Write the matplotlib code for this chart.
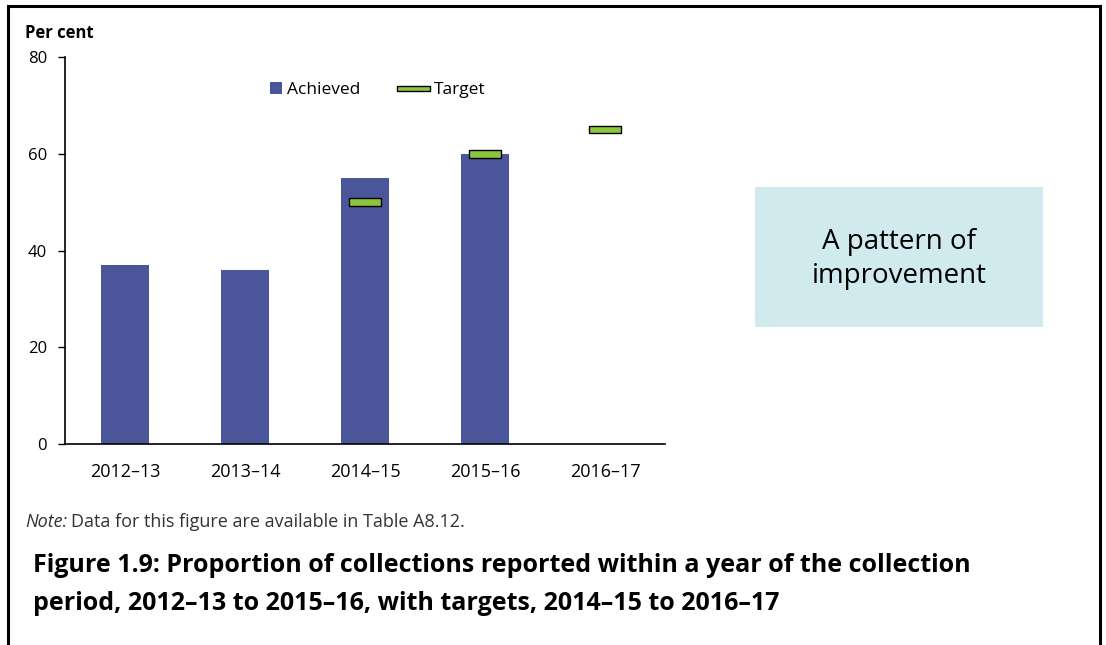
import matplotlib
matplotlib.use("Agg")
import matplotlib.pyplot as plt
from matplotlib.patches import Rectangle, Patch
from matplotlib.lines import Line2D
from matplotlib.legend_handler import HandlerPatch

plt.rcParams['font.family'] = ['Open Sans', 'DejaVu Sans']

# data
years = ['2012–13', '2013–14', '2014–15', '2015–16', '2016–17']
achieved = [37, 36, 55, 60]
target_years = ['2014–15', '2015–16', '2016–17']
targets = [50, 60, 65]

bar_color = '#4a5699'
target_color = '#8cc63f'

fig = plt.figure(figsize=(11.06, 6.45), dpi=100)
ax = fig.add_axes([0.0588, 0.3116, 0.5425, 0.6])

x = list(range(len(years)))
ax.bar(x[:len(achieved)], achieved, width=0.4, color=bar_color, zorder=2)
tx = [years.index(t) for t in target_years]
ax.bar(tx, [1.6] * len(targets), bottom=[t - 0.8 for t in targets], width=0.27,
       color=target_color, edgecolor='black', linewidth=1.0, zorder=3)

ax.set_xlim(-0.5, len(years) - 0.5)
ax.set_ylim(0, 80)
ax.set_yticks([0, 20, 40, 60, 80])
ax.set_xticks(x)
ax.set_xticklabels(years)
ax.tick_params(axis='y', direction='out', length=5, width=1, labelsize=12, pad=8)
ax.tick_params(axis='x', length=0, labelsize=13, pad=14)
for s in ['top', 'right']:
    ax.spines[s].set_visible(False)
ax.spines['left'].set_linewidth(1.2)
ax.spines['bottom'].set_linewidth(1.2)


def square_patch(legend, orig_handle, xdescent, ydescent, width, height, fontsize):
    return Rectangle((width - height - xdescent - 1, -ydescent), height, height,
                     facecolor=bar_color, edgecolor='none')


def wide_patch(legend, orig_handle, xdescent, ydescent, width, height, fontsize):
    return Rectangle((-xdescent, -ydescent + height * 0.3), width, height * 0.4,
                     facecolor=target_color, edgecolor='black', linewidth=1)


h1 = Patch(facecolor=bar_color, edgecolor='none', label='Achieved')
h2 = Patch(facecolor=target_color, edgecolor='black', linewidth=1, label='Target')
ax.legend(handles=[h1, h2], loc='upper center', bbox_to_anchor=(0.505, 0.975), ncol=2,
          frameon=False, fontsize=12.5, handlelength=1.9, handletextpad=0.2,
          columnspacing=2.1,
          handler_map={h1: HandlerPatch(patch_func=square_patch),
                       h2: HandlerPatch(patch_func=wide_patch)})

fig.text(25 / 1106, 1 - 33 / 645, 'Per cent', fontsize=12, fontweight='bold',
         va='center', ha='left')

# callout box
fig.patches.append(Rectangle((755 / 1106, 1 - 327 / 645), 288 / 1106, 140 / 645,
                             transform=fig.transFigure, facecolor='#d0eaee',
                             edgecolor='none'))
fig.text(899 / 1106, 1 - 259 / 645, 'A pattern of\nimprovement', fontsize=20,
         ha='center', va='center', linespacing=1.25)

# note line
note1 = fig.text(25 / 1106, 1 - 522 / 645, 'Note:', fontsize=13, style='italic',
                 color='#333333', va='center', ha='left')
fig.canvas.draw()
bb = note1.get_window_extent()
fig.text(bb.x1 / 1106 + 4 / 1106, 1 - 522 / 645,
         'Data for this figure are available in Table A8.12.', fontsize=13,
         color='#333333', va='center', ha='left')

fig.text(33 / 1106, 1 - 566 / 645,
         'Figure 1.9: Proportion of collections reported within a year of the collection',
         fontsize=18, fontweight='bold', va='center', ha='left')
fig.text(33 / 1106, 1 - 603 / 645,
         'period, 2012–13 to 2015–16, with targets, 2014–15 to 2016–17',
         fontsize=18, fontweight='bold', va='center', ha='left')

# outer frame
fig.add_artist(Line2D([8 / 1106, 8 / 1106], [0, 1 - 6 / 645], transform=fig.transFigure,
                      color='black', linewidth=2.2))
fig.add_artist(Line2D([1100 / 1106, 1100 / 1106], [0, 1 - 6 / 645], transform=fig.transFigure,
                      color='black', linewidth=2.2))
fig.add_artist(Line2D([8 / 1106, 1100 / 1106], [1 - 6 / 645, 1 - 6 / 645],
                      transform=fig.transFigure, color='black', linewidth=2.2))

fig.savefig('out.png', dpi=100)
